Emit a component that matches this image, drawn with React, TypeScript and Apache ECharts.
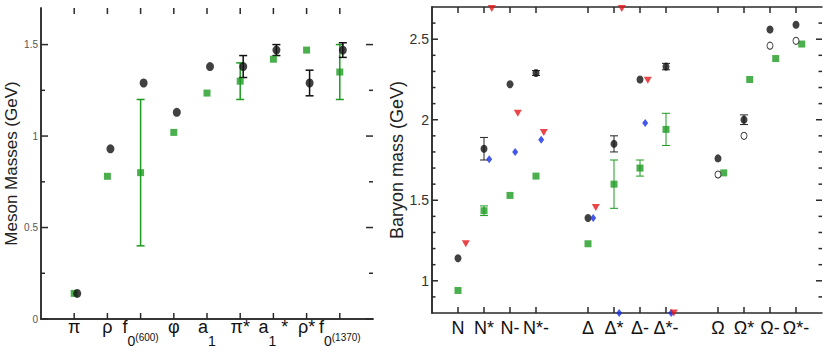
import React, { useEffect, useRef } from 'react';
import * as echarts from 'echarts';

// ---------- Left panel: mesons ----------
const mesonLabels = [
  '{m|π}',
  '{m|ρ}',
  '{m|f}{sub|0}{sup|(600)}',
  '{m|φ}',
  '{m|a}{sub|1}',
  '{m|π*}',
  '{m|a}{sub|1}{m| *}',
  '{m|ρ*}',
  '{m|f}{sub|0}{sup|(1370)}',
];
const mesonPos = [1, 2, 3, 4, 5, 6, 7, 8, 9];
const mesonLattice = [0.14, 0.93, 1.29, 1.13, 1.38, 1.38, 1.47, 1.29, 1.47];
const mesonLatticeErr = [0, 0, 0, 0, 0, 0.06, 0.03, 0.07, 0.04];
const mesonExp = [0.14, 0.78, 0.8, 1.02, 1.235, 1.3, 1.42, 1.47, 1.35];
const mesonExpErr = [0, 0, 0.4, 0, 0, 0.1, 0, 0, 0.15];
const mesonTicks = [0, 0.5, 1, 1.5];
const mesonMinorTicks = [0.25, 0.75, 1.25];

// ---------- Right panel: baryons ----------
const baryonLabels = ['N', 'N*', 'N-', 'N*-', 'Δ', 'Δ*', 'Δ-', 'Δ*-', 'Ω', 'Ω*', 'Ω-', 'Ω*-'];
const baryonPos = [1, 2, 3, 4, 6, 7, 8, 9, 11, 12, 13, 14];
const baryonLattice = [1.14, 1.82, 2.22, 2.29, 1.39, 1.85, 2.25, 2.33, 1.76, 2.0, 2.56, 2.59];
const baryonLatticeErr = [0, 0.07, 0, 0.015, 0, 0.05, 0, 0.02, 0, 0.03, 0, 0];
const baryonExp = [0.94, 1.435, 1.53, 1.65, 1.23, 1.6, 1.7, 1.94, 1.67, 2.25, 2.38, 2.47];
const baryonExpErr = [0, 0.03, 0, 0, 0, 0.15, 0.05, 0.1, 0, 0, 0, 0];
const baryonBlue = [null, 1.755, 1.8, 1.875, 1.39, 0.8, 1.98, 0.8, null, null, null, null];
const baryonRed = [1.23, 2.69, 2.04, 1.92, 1.455, 2.69, 2.245, 0.8, null, null, null, null];
const baryonOpen = [null, null, null, null, null, null, null, null, 1.66, 1.9, 2.46, 2.49];
const baryonTicks = [1, 1.5, 2, 2.5];
const baryonMinorTicks = [0.9, 1.1, 1.2, 1.3, 1.4, 1.6, 1.7, 1.8, 1.9, 2.1, 2.2, 2.3, 2.4, 2.6];

const FONT = 'Liberation Sans, Arial, Helvetica, sans-serif';
const GREEN = '#1e9b22';
const BLACK = '#111111';
const BLUE = '#1530e6';
const RED = '#e5161c';
const FRAME = '#2a2a2a';

function errorBars(
  xs: number[],
  vals: number[],
  errs: number[],
  color: string,
  cap: number,
  width: number,
  xi: number,
  yi: number,
  shift: number
) {
  const data: number[][] = [];
  xs.forEach((x, i) => {
    if (errs[i] > 0) data.push([x + shift, vals[i] - errs[i], vals[i] + errs[i]]);
  });
  return {
    type: 'custom',
    xAxisIndex: xi,
    yAxisIndex: yi,
    data,
    encode: { x: 0, y: [1, 2] },
    silent: true,
    z: 1,
    clip: false,
    renderItem: (_p: any, api: any) => {
      const x = api.value(0);
      const a = api.coord([x, api.value(1)]);
      const b = api.coord([x, api.value(2)]);
      const st = { stroke: color, lineWidth: width };
      return {
        type: 'group',
        children: [
          { type: 'line', shape: { x1: a[0], y1: a[1], x2: b[0], y2: b[1] }, style: st },
          { type: 'line', shape: { x1: a[0] - cap, y1: a[1], x2: a[0] + cap, y2: a[1] }, style: st },
          { type: 'line', shape: { x1: b[0] - cap, y1: b[1], x2: b[0] + cap, y2: b[1] }, style: st },
        ],
      };
    },
  };
}

function pts(xs: number[], vals: (number | null)[], shift: number) {
  const out: number[][] = [];
  xs.forEach((x, i) => {
    const v = vals[i];
    if (v !== null && v !== undefined) out.push([x + shift, v]);
  });
  return out;
}

// Inside frame ticks, placed with the chart's own axis scales (convertToPixel)
function tickGraphics(
  chart: any,
  xi: number,
  yi: number,
  xMin: number,
  xMax: number,
  yMin: number,
  yMax: number,
  yMajor: number[],
  yMinor: number[],
  xMajor: number[],
  yMajLen: number,
  yMinLen: number,
  xLen: number
) {
  const finder = { xAxisIndex: xi, yAxisIndex: yi };
  const st = { stroke: FRAME, lineWidth: 1.5 };
  const out: any[] = [];
  const addY = (v: number, len: number) => {
    const a = chart.convertToPixel(finder, [xMin, v]) as number[];
    const b = chart.convertToPixel(finder, [xMax, v]) as number[];
    out.push({ type: 'line', z: 100, silent: true, shape: { x1: a[0], y1: a[1], x2: a[0] + len, y2: a[1] }, style: st });
    out.push({ type: 'line', z: 100, silent: true, shape: { x1: b[0], y1: b[1], x2: b[0] - len, y2: b[1] }, style: st });
  };
  yMajor.forEach((v) => addY(v, yMajLen));
  yMinor.forEach((v) => addY(v, yMinLen));
  xMajor.forEach((v) => {
    const a = chart.convertToPixel(finder, [v, yMin]) as number[];
    const b = chart.convertToPixel(finder, [v, yMax]) as number[];
    out.push({ type: 'line', z: 100, silent: true, shape: { x1: a[0], y1: a[1], x2: a[0], y2: a[1] - xLen }, style: st });
    out.push({ type: 'line', z: 100, silent: true, shape: { x1: b[0], y1: b[1], x2: b[0], y2: b[1] + xLen }, style: st });
  });
  return out;
}

export default function App() {
  const ref = useRef<HTMLDivElement>(null);
  useEffect(() => {
    if (!ref.current) return;
    const chart = echarts.init(ref.current, undefined, { renderer: 'svg' });

    const lineStyle = { color: FRAME, width: 1.5 };
    const richLeft = {
      m: { fontSize: 18, lineHeight: 16, fontFamily: FONT, color: '#111' },
      sub: { fontSize: 14, lineHeight: 16, padding: [28, 0, 0, 0], fontFamily: FONT, color: '#111' },
      sup: { fontSize: 10, lineHeight: 16, padding: [20, 0, 0, 0], fontFamily: FONT, color: '#111' },
    };

    const option: any = {
      animation: false,
      grid: [
        { left: 41, top: 8, width: 332, height: 311 },
        { left: 432, top: 7, width: 390, height: 306 },
      ],
      xAxis: [
        {
          gridIndex: 0, type: 'value', min: 0, max: 10, position: 'bottom',
          axisLine: { show: true, lineStyle },
          splitLine: { show: false },
          axisTick: { show: false },
          axisLabel: {
            customValues: mesonPos,
            margin: 0,
            formatter: (v: number) => mesonLabels[Math.round(v) - 1] || '',
            rich: richLeft,
          },
        },
        {
          gridIndex: 0, type: 'value', min: 0, max: 10, position: 'top',
          axisLine: { show: true, lineStyle },
          splitLine: { show: false },
          axisTick: { show: false },
          axisLabel: { show: false },
        },
        {
          gridIndex: 1, type: 'value', min: 0, max: 15, position: 'bottom',
          axisLine: { show: true, lineStyle },
          splitLine: { show: false },
          axisTick: { show: false },
          axisLabel: {
            customValues: baryonPos,
            margin: 6,
            fontSize: 18,
            fontFamily: FONT,
            color: '#111',
            formatter: (v: number) => baryonLabels[baryonPos.indexOf(Math.round(v))] || '',
          },
        },
        {
          gridIndex: 1, type: 'value', min: 0, max: 15, position: 'top',
          axisLine: { show: true, lineStyle },
          splitLine: { show: false },
          axisTick: { show: false },
          axisLabel: { show: false },
        },
      ],
      yAxis: [
        {
          gridIndex: 0, type: 'value', min: 0, max: 1.7, position: 'left',
          name: 'Meson Masses (GeV)', nameLocation: 'middle', nameRotate: 90, nameGap: 17,
          nameTextStyle: { fontSize: 17, fontFamily: FONT, color: '#222' },
          axisLine: { show: true, lineStyle },
          splitLine: { show: false },
          axisTick: { show: false },
          axisLabel: {
            customValues: mesonTicks, margin: 3, fontSize: 10, fontFamily: FONT, color: '#555',
          },
        },
        {
          gridIndex: 0, type: 'value', min: 0, max: 1.7, position: 'right',
          axisLine: { show: true, lineStyle }, splitLine: { show: false }, axisLabel: { show: false },
          axisTick: { show: false },
        },
        {
          gridIndex: 1, type: 'value', min: 0.8, max: 2.7, position: 'left',
          name: 'Baryon mass (GeV)', nameLocation: 'middle', nameRotate: 90, nameGap: 26,
          nameTextStyle: { fontSize: 18, fontFamily: FONT, color: '#222' },
          axisLine: { show: true, lineStyle },
          splitLine: { show: false },
          axisTick: { show: false },
          axisLabel: {
            customValues: baryonTicks, margin: 3, fontSize: 14, fontFamily: FONT, color: '#333',
          },
        },
        {
          gridIndex: 1, type: 'value', min: 0.8, max: 2.7, position: 'right',
          axisLine: { show: true, lineStyle }, splitLine: { show: false }, axisLabel: { show: false },
          axisTick: { show: false },
        },
      ],
      series: [
        // ----- left panel -----
        errorBars(mesonPos, mesonExp, mesonExpErr, GREEN, 4, 1.5, 0, 0, 0),
        errorBars(mesonPos, mesonLattice, mesonLatticeErr, BLACK, 4, 1.5, 0, 0, 0.09),
        {
          type: 'scatter', xAxisIndex: 0, yAxisIndex: 0, z: 2,
          data: pts(mesonPos, mesonExp, 0),
          symbol: 'rect', symbolSize: [7, 7],
          itemStyle: { color: GREEN },
        },
        {
          type: 'scatter', xAxisIndex: 0, yAxisIndex: 0, z: 3,
          data: pts(mesonPos, mesonLattice, 0.09),
          symbol: 'circle', symbolSize: [8, 9],
          itemStyle: { color: BLACK },
        },
        // ----- right panel -----
        errorBars(baryonPos, baryonExp, baryonExpErr, GREEN, 4, 1, 2, 2, 0),
        errorBars(baryonPos, baryonLattice, baryonLatticeErr, '#222', 4, 1, 2, 2, 0),
        {
          type: 'scatter', xAxisIndex: 2, yAxisIndex: 2, z: 2,
          data: baryonPos.map((x, i) => [baryonOpen[i] !== null ? x + 0.22 : x, baryonExp[i]]),
          symbol: 'rect', symbolSize: [7, 7],
          itemStyle: { color: GREEN },
        },
        {
          type: 'scatter', xAxisIndex: 2, yAxisIndex: 2, z: 3,
          data: pts(baryonPos, baryonOpen, 0),
          symbol: 'circle', symbolSize: [6, 7],
          itemStyle: { color: '#fff', borderColor: BLACK, borderWidth: 1 },
        },
        {
          type: 'scatter', xAxisIndex: 2, yAxisIndex: 2, z: 3,
          data: pts(baryonPos, baryonLattice, 0),
          symbol: 'circle', symbolSize: [7, 8],
          itemStyle: { color: BLACK },
        },
        {
          type: 'scatter', xAxisIndex: 2, yAxisIndex: 2, z: 4,
          data: pts(baryonPos, baryonBlue, 0.2),
          symbol: 'diamond', symbolSize: [6, 8],
          itemStyle: { color: BLUE },
        },
        {
          type: 'scatter', xAxisIndex: 2, yAxisIndex: 2, z: 4,
          data: pts(baryonPos, baryonRed, 0.3),
          symbol: 'triangle', symbolRotate: 180, symbolSize: [8, 7],
          itemStyle: { color: RED },
        },
      ],
    };
    chart.setOption(option);

    const ticks = [
      ...tickGraphics(chart, 0, 0, 0, 10, 0, 1.7, mesonTicks, mesonMinorTicks, mesonPos, 7, 4, 6),
      ...tickGraphics(chart, 2, 2, 0, 15, 0.8, 2.7, baryonTicks, baryonMinorTicks, baryonPos, 6, 3.5, 6),
    ];
    chart.setOption({ graphic: { elements: ticks } });

    return () => chart.dispose();
  }, []);
  return (
    <div
      ref={ref}
      style={{ position: 'fixed', left: 0, top: 0, width: 828, height: 355, background: '#fff' }}
    />
  );
}
